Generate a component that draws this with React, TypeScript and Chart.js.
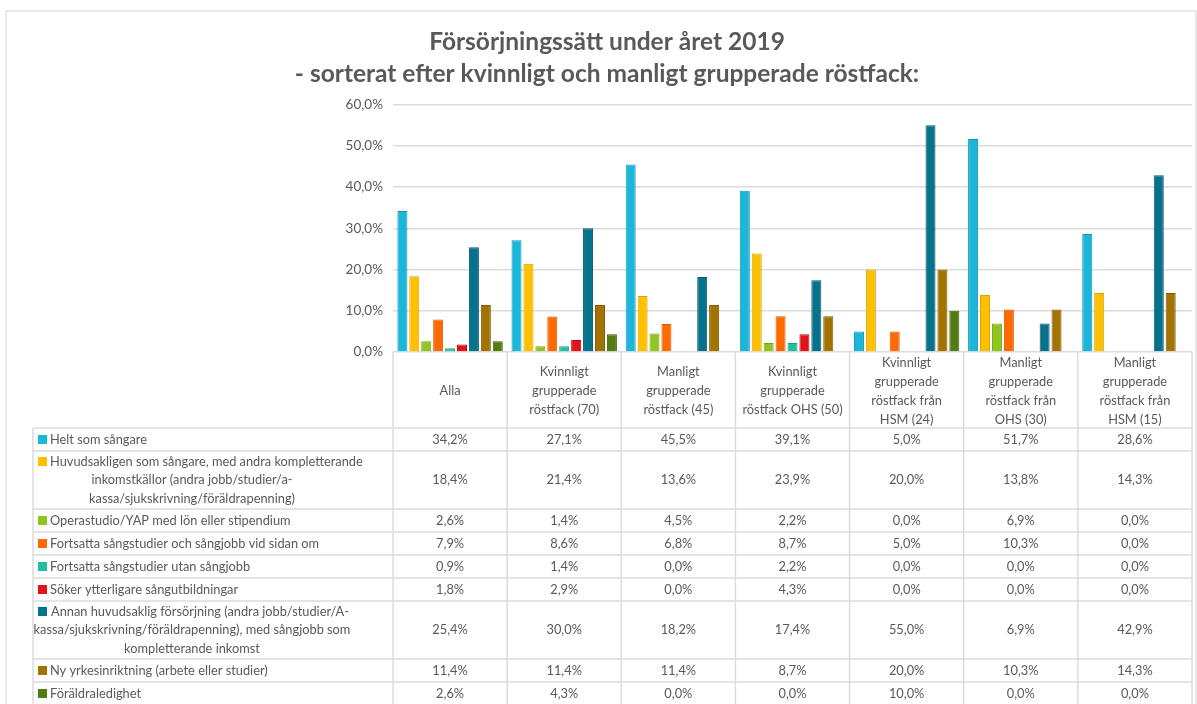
import { useEffect, useRef } from "react";
import { Chart, registerables } from "chart.js";

Chart.register(...registerables);

const titleLines = [
  "Försörjningssätt under året 2019",
  "- sorterat efter kvinnligt och manligt grupperade röstfack:",
];

const categories: string[][] = [
  ["Alla"],
  ["Kvinnligt", "grupperade", "röstfack (70)"],
  ["Manligt", "grupperade", "röstfack (45)"],
  ["Kvinnligt", "grupperade", "röstfack OHS (50)"],
  ["Kvinnligt", "grupperade", "röstfack från", "HSM (24)"],
  ["Manligt", "grupperade", "röstfack från", "OHS (30)"],
  ["Manligt", "grupperade", "röstfack från", "HSM (15)"],
];

const seriesNames: string[][] = [
  ["Helt som sångare"],
  [
    "Huvudsakligen som sångare, med andra kompletterande",
    "inkomstkällor (andra jobb/studier/a-",
    "kassa/sjukskrivning/föräldrapenning)",
  ],
  ["Operastudio/YAP med lön eller stipendium"],
  ["Fortsatta sångstudier och sångjobb vid sidan om"],
  ["Fortsatta sångstudier utan sångjobb"],
  ["Söker ytterligare sångutbildningar"],
  [
    "Annan huvudsaklig försörjning (andra jobb/studier/A-",
    "kassa/sjukskrivning/föräldrapenning), med sångjobb som",
    "kompletterande inkomst",
  ],
  ["Ny yrkesinriktning (arbete eller studier)"],
  ["Föräldraledighet"],
];

const heltSomSangare = [34.2, 27.1, 45.5, 39.1, 5.0, 51.7, 28.6];
const huvudsakligen = [18.4, 21.4, 13.6, 23.9, 20.0, 13.8, 14.3];
const operastudio = [2.6, 1.4, 4.5, 2.2, 0.0, 6.9, 0.0];
const fortsattaMedJobb = [7.9, 8.6, 6.8, 8.7, 5.0, 10.3, 0.0];
const fortsattaUtanJobb = [0.9, 1.4, 0.0, 2.2, 0.0, 0.0, 0.0];
const sokerUtbildning = [1.8, 2.9, 0.0, 4.3, 0.0, 0.0, 0.0];
const annanForsorjning = [25.4, 30.0, 18.2, 17.4, 55.0, 6.9, 42.9];
const nyYrkesinriktning = [11.4, 11.4, 11.4, 8.7, 20.0, 10.3, 14.3];
const foraldraledighet = [2.6, 4.3, 0.0, 0.0, 10.0, 0.0, 0.0];

const seriesValues = [
  heltSomSangare,
  huvudsakligen,
  operastudio,
  fortsattaMedJobb,
  fortsattaUtanJobb,
  sokerUtbildning,
  annanForsorjning,
  nyYrkesinriktning,
  foraldraledighet,
];

const seriesColors = [
  "#1AB7DA",
  "#FFC000",
  "#8EC51E",
  "#FF6A00",
  "#1EC0A0",
  "#E3131B",
  "#07728B",
  "#A27300",
  "#527C12",
];
const seriesBorders = [
  "#1496B3",
  "#D9A300",
  "#76A318",
  "#D95A00",
  "#189E84",
  "#B80F16",
  "#055A6E",
  "#805B00",
  "#3F600E",
];

const yTicks = [0, 10, 20, 30, 40, 50, 60];

const TEXT = "#595959";
const LINE = "#dcdcdc";
const FONT = "Lato";

const fmt = (v: number) => v.toFixed(1).replace(".", ",") + "%";

const tablePlugin = {
  id: "dataTable",
  afterDraw(chart: any) {
    const ctx: CanvasRenderingContext2D = chart.ctx;
    const xs = chart.scales.x;
    const area = chart.chartArea;
    const n = categories.length;
    const colW = (area.right - area.left) / n;
    const tableLeft = 33;
    const headerTop = area.bottom;
    const headerH = 76;
    const lineH = 18.5;
    const rowHeights = seriesNames.map((l) => (l.length === 1 ? 23 : 58));

    ctx.save();
    // outer frame
    ctx.strokeStyle = "#e2e2e2";
    ctx.lineWidth = 1.5;
    ctx.beginPath();
    ctx.moveTo(6, 710);
    ctx.lineTo(6, 11);
    ctx.lineTo(1196, 11);
    ctx.lineTo(1196, 710);
    ctx.stroke();

    ctx.strokeStyle = LINE;
    ctx.lineWidth = 1.5;
    let y = headerTop + headerH;
    const rowTops: number[] = [];
    ctx.beginPath();
    ctx.moveTo(tableLeft, y);
    ctx.lineTo(area.right, y);
    for (let r = 0; r < rowHeights.length; r++) {
      rowTops.push(y);
      y += rowHeights[r];
      ctx.moveTo(tableLeft, y);
      ctx.lineTo(area.right, y);
    }
    const bottom = y;
    ctx.moveTo(tableLeft, headerTop + headerH);
    ctx.lineTo(tableLeft, bottom);
    for (let i = 0; i <= n; i++) {
      const cx = i < n ? xs.getPixelForValue(i) - colW / 2 : xs.getPixelForValue(n - 1) + colW / 2;
      ctx.moveTo(cx, headerTop);
      ctx.lineTo(cx, bottom);
    }
    ctx.stroke();

    ctx.fillStyle = TEXT;
    ctx.font = `12.8px ${FONT}`;
    ctx.textBaseline = "middle";
    ctx.textAlign = "center";
    for (let i = 0; i < n; i++) {
      const cx = xs.getPixelForValue(i);
      const lines = categories[i];
      const cy = headerTop + 39;
      const start = cy - ((lines.length - 1) * 19) / 2;
      lines.forEach((t, k) => ctx.fillText(t, cx, start + k * 19));
    }
    const labelCenter = 192;
    for (let r = 0; r < seriesNames.length; r++) {
      const top = rowTops[r];
      const h = rowHeights[r];
      const cy = top + h / 2;
      const lines = seriesNames[r];
      const start = cy - ((lines.length - 1) * lineH) / 2;
      ctx.fillStyle = seriesColors[r];
      ctx.fillRect(38, start - 4.5, 9, 9);
      ctx.fillStyle = TEXT;
      if (lines.length === 1) {
        ctx.textAlign = "left";
        ctx.fillText(lines[0], 50, start);
      } else {
        ctx.textAlign = "center";
        lines.forEach((t, k) => {
          const w = ctx.measureText(t).width;
          let x = labelCenter;
          if (k === 0) x = Math.max(labelCenter + 8, 50 + w / 2);
          ctx.fillText(t, x, start + k * lineH);
        });
      }
      ctx.textAlign = "center";
      for (let i = 0; i < n; i++) {
        ctx.fillText(fmt(seriesValues[r][i]), xs.getPixelForValue(i), cy);
      }
    }
    ctx.restore();
  },
};

export default function App() {
  const ref = useRef<HTMLCanvasElement>(null);
  useEffect(() => {
    const chart = new Chart(ref.current!, {
      type: "bar",
      data: {
        labels: categories.map((c) => c.join(" ")),
        datasets: seriesValues.map((vals, i) => ({
          label: seriesNames[i].join(" "),
          data: vals,
          backgroundColor: seriesColors[i],
          borderColor: seriesBorders[i],
          borderWidth: 1,
          categoryPercentage: 0.94,
          barPercentage: 0.84,
        })),
      },
      options: {
        animation: false,
        responsive: false,
        devicePixelRatio: 1,
        layout: { padding: { left: 22, right: 5, top: 0, bottom: 352 } },
        plugins: {
          legend: { display: false },
          tooltip: { enabled: false },
          title: {
            display: true,
            text: titleLines,
            color: TEXT,
            font: { family: FONT, size: 24.5, weight: "bold", lineHeight: 1.3 },
            padding: { top: 26, bottom: 15 },
          },
        },
        scales: {
          x: {
            ticks: { display: false },
            grid: { display: false },
            border: { display: false },
            afterFit: (s: any) => {
              s.height = 0;
            },
          },
          y: {
            min: 0,
            max: 60,
            afterBuildTicks: (s: any) => {
              s.ticks = yTicks.map((v) => ({ value: v }));
            },
            ticks: {
              color: TEXT,
              font: { family: FONT, size: 13.5 },
              padding: 10,
              callback: (v: any) => fmt(Number(v)),
            },
            grid: { color: LINE, lineWidth: 1.5, drawTicks: false },
            border: { display: false },
            afterFit: (s: any) => {
              s.width = 371;
            },
          },
        },
      },
      plugins: [tablePlugin],
    });
    return () => chart.destroy();
  }, []);
  return (
    <div style={{ position: "fixed", left: 0, top: 0, width: 1197, height: 704, background: "#fff", overflow: "hidden" }}>
      <canvas ref={ref} width={1197} height={704} style={{ width: 1197, height: 704, display: "block" }} />
    </div>
  );
}
